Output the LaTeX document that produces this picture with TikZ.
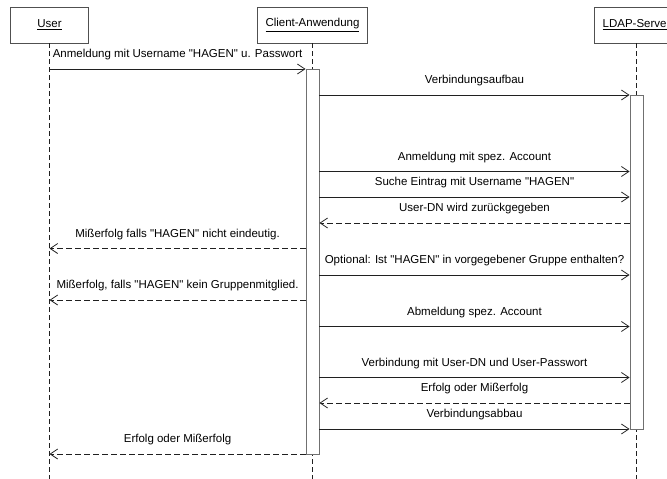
\documentclass[tikz,border=0pt]{standalone}
\usepackage{fontspec}
% a family of its own, so that straight quotes stay straight
\newfontfamily\diagfont{Liberation Sans}
\usetikzlibrary{arrows.meta}
\definecolor{boxgray}{HTML}{505050}
\definecolor{bargray}{HTML}{707070}
\definecolor{linegray}{HTML}{202020}
\begin{document}
\begin{tikzpicture}[x=1pt,y=-1pt,
  font=\diagfont\fontsize{11.5}{13.5}\selectfont,
  actor/.style={draw=boxgray, line width=0.8pt, fill=white, minimum height=36pt, inner sep=0pt},
  actbar/.style={draw=bargray, line width=0.8pt, fill=white, minimum width=13pt, inner sep=0pt},
  life/.style={draw=linegray, line width=0.7pt, dash pattern=on 5pt off 3pt},
  msg/.style={draw=linegray, line width=0.8pt, -{Straight Barb[length=7.5pt,width=10pt]}},
  ret/.style={msg, dash pattern=on 6pt off 3pt},
  lbl/.style={anchor=base, inner sep=0pt, yshift=11.5pt}
]
\useasboundingbox (0,0) rectangle (667,479);
\clip (0,0) rectangle (667,479);

% participants
\node[actor, minimum width=78pt]  (user)   at (49.5,25) {\underline{User}};
\node[actor, minimum width=110pt] (client) at (312.5,25) {\underline{Client-Anwendung}};
\node[actor, minimum width=84pt]  (ldap)   at (636.5,25) {\underline{LDAP-Server}};

% lifelines
\coordinate (bottom) at (0,479);
\draw[life] (user.south)   -- (user.south |- bottom);
\draw[life] (client.south) -- (client.south |- bottom);
\draw[life] (ldap.south)   -- (ldap.south |- bottom);

% activation bars
\node[actbar, minimum height=385pt] (cbar) at (312.5,261.5) {};
\node[actbar, minimum height=334pt] (lbar) at (636.5,262) {};

% message rows
\coordinate (m1)  at (0,69);
\coordinate (m2)  at (0,95);
\coordinate (m3)  at (0,171.5);
\coordinate (m4)  at (0,197);
\coordinate (m5)  at (0,223);
\coordinate (m6)  at (0,248.5);
\coordinate (m7)  at (0,275);
\coordinate (m8)  at (0,300);
\coordinate (m9)  at (0,326.5);
\coordinate (m10) at (0,377.5);
\coordinate (m11) at (0,403);
\coordinate (m12) at (0,429);
\coordinate (m13) at (0,454);

\draw[msg] (user.south |- m1) -- node[lbl] {Anmeldung mit Username "HAGEN" u. Passwort} (cbar.west |- m1);
\draw[msg] (cbar.east |- m2) -- node[lbl] {Verbindungsaufbau} (lbar.west |- m2);
\draw[msg] (cbar.east |- m3) -- node[lbl] {Anmeldung mit spez. Account} (lbar.west |- m3);
\draw[msg] (cbar.east |- m4) -- node[lbl] {Suche Eintrag mit Username "HAGEN"} (lbar.west |- m4);
\draw[ret] (lbar.west |- m5) -- node[lbl] {User-DN wird zurückgegeben} (cbar.east |- m5);
\draw[ret] (cbar.west |- m6) -- node[lbl] {Mißerfolg falls "HAGEN" nicht eindeutig.} (user.south |- m6);
\draw[msg] (cbar.east |- m7) -- node[lbl] {Optional: Ist "HAGEN" in vorgegebener Gruppe enthalten?} (lbar.west |- m7);
\draw[ret] (cbar.west |- m8) -- node[lbl] {Mißerfolg, falls "HAGEN" kein Gruppenmitglied.} (user.south |- m8);
\draw[msg] (cbar.east |- m9) -- node[lbl] {Abmeldung spez. Account} (lbar.west |- m9);
\draw[msg] (cbar.east |- m10) -- node[lbl] {Verbindung mit User-DN und User-Passwort} (lbar.west |- m10);
\draw[ret] (lbar.west |- m11) -- node[lbl] {Erfolg oder Mißerfolg} (cbar.east |- m11);
\draw[msg] (cbar.east |- m12) -- node[lbl] {Verbindungsabbau} (lbar.west |- m12);
\draw[ret] (cbar.west |- m13) -- node[lbl] {Erfolg oder Mißerfolg} (user.south |- m13);
\end{tikzpicture}
\end{document}
